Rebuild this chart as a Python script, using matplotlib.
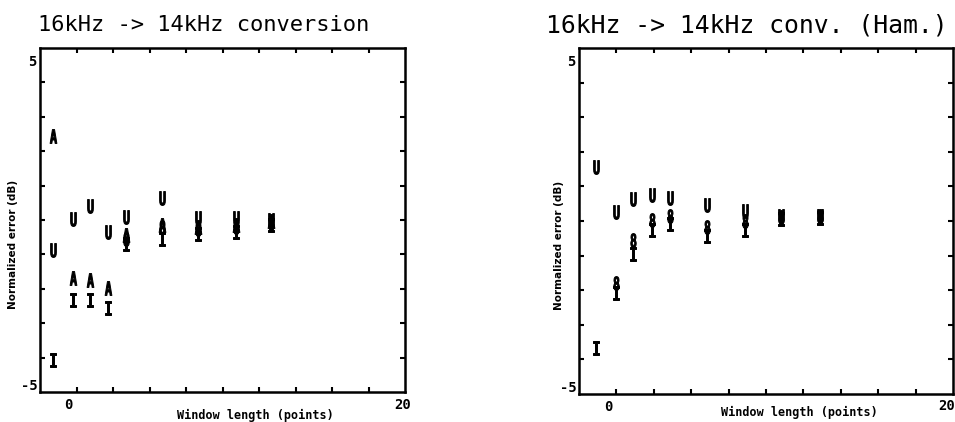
import numpy as np
import matplotlib
matplotlib.use("Agg")
import matplotlib.pyplot as plt
from matplotlib.textpath import TextPath
from matplotlib.font_manager import FontProperties
from matplotlib.path import Path
import matplotlib.transforms as mtransforms

# ---- data ----
x_left = [-1.2, 0.0, 1.0, 2.1, 3.2, 5.35, 7.55, 9.8, 11.95]
left_U = [-0.88, 0.04, 0.42, -0.36, 0.10, 0.65, 0.05, 0.05, 0.0]
left_A = [2.45, -1.70, -1.75, -1.99, -0.45, -0.15, -0.20, -0.15, -0.02]
left_8 = [np.nan, np.nan, np.nan, np.nan, -0.55, -0.20, -0.25, -0.20, -0.10]
left_I = [-4.07, -2.33, -2.33, -2.57, -0.70, -0.55, -0.40, -0.35, -0.15]

x_right = [-1.0, 0.15, 1.15, 2.3, 3.35, 5.5, 7.75, 9.9, 12.15]
right_U = [1.56, 0.26, 0.64, 0.75, 0.66, 0.46, 0.29, 0.15, 0.15]
right_8 = [np.nan, -1.79, -0.55, 0.03, 0.14, -0.17, 0.0, 0.12, 0.14]
right_I = [-3.67, -2.08, -0.95, -0.26, -0.10, -0.43, -0.26, 0.05, 0.08]

titles = ["16kHz -> 14kHz conversion", "16kHz -> 14kHz conv. (Ham.)"]
ylabel = "Normalized error (dB)"
xlabel = "Window length (points)"
xlim = (-2, 20)
ylim = (-5, 5)


def letter_marker(ch, sx=0.62):
    tp = TextPath((0, 0), ch, size=1,
                  prop=FontProperties(family="DejaVu Sans Mono", weight="bold"))
    verts = tp.vertices.copy()
    codes = tp.codes
    real = codes != Path.CLOSEPOLY
    x0, x1 = verts[real, 0].min(), verts[real, 0].max()
    y0, y1 = verts[real, 1].min(), verts[real, 1].max()
    verts[:, 0] = (verts[:, 0] - (x0 + x1) / 2) * sx
    verts[:, 1] = verts[:, 1] - (y0 + y1) / 2
    verts[~real] = 0.0
    return Path(verts, codes)


fig = plt.figure(figsize=(9.55, 4.22), dpi=100)
ax_l = fig.add_axes([40 / 955, 1 - 392 / 422, 365 / 955, 344 / 422])
ax_r = fig.add_axes([579 / 955, 1 - 394 / 422, 374 / 955, 346 / 422])

mk = {c: letter_marker(c) for c in "UA8I"}

for ax, xs, series in [
    (ax_l, x_left, [("I", left_I), ("8", left_8), ("A", left_A), ("U", left_U)]),
    (ax_r, x_right, [("I", right_I), ("8", right_8), ("U", right_U)]),
]:
    for ch, vals in series:
        ax.plot(xs, vals, linestyle="none", marker=mk[ch], markersize=10,
                color="black", markeredgewidth=0.7)

for ax, title, tsize, tx in [(ax_l, titles[0], 15.8, 38), (ax_r, titles[1], 17.8, 546)]:
    ax.set_xlim(*xlim)
    ax.set_ylim(*ylim)
    for s in ax.spines.values():
        s.set_linewidth(1.8)
        s.set_color("black")
    ax.set_xticks(list(np.linspace(-2, 20, 11)[1:-1]))
    ax.set_xticklabels([])
    ax.set_yticks(list(range(-4, 5)))
    ax.set_yticklabels([])
    ax.tick_params(direction="in", length=3.5, width=1.5, top=True, right=True)
    fig.text(tx / 955, 1 - 25 / 422, title, family="DejaVu Sans Mono",
             fontsize=tsize, ha="left", va="center", color="black")
    ax.set_ylabel(ylabel, fontsize=7.5, fontweight="bold", family="DejaVu Sans",
                  labelpad=10)
    ax.set_xlabel(xlabel, fontsize=8.5, fontweight="bold", family="DejaVu Sans Mono",
                  labelpad=8)

    bold = dict(fontsize=10, fontweight="bold", family="DejaVu Sans Mono",
                color="black")
    ytr = ax.get_yaxis_transform()
    xtr = ax.get_xaxis_transform()
    ax.text(0, 5, "5", transform=ytr + mtransforms.ScaledTranslation(-0.04, -0.14, fig.dpi_scale_trans),
            ha="right", va="center", **bold)
    ax.text(0, -5, "-5", transform=ytr + mtransforms.ScaledTranslation(-0.02, 0.06, fig.dpi_scale_trans),
            ha="right", va="center", **bold)
    ax.text(0, 0, "0", transform=xtr + mtransforms.ScaledTranslation(-0.05, -0.13, fig.dpi_scale_trans),
            ha="center", va="center", clip_on=False, **bold)

ax_l.text(20, 0, "20", transform=ax_l.get_xaxis_transform() + mtransforms.ScaledTranslation(-0.02, -0.13, fig.dpi_scale_trans),
          ha="center", va="center", clip_on=False, fontsize=10, fontweight="bold",
          family="DejaVu Sans Mono")
ax_r.text(20, 0, "20", transform=ax_r.get_xaxis_transform() + mtransforms.ScaledTranslation(-0.06, -0.12, fig.dpi_scale_trans),
          ha="center", va="center", clip_on=False, fontsize=10, fontweight="bold",
          family="DejaVu Sans Mono")

ax_l.xaxis.set_label_coords(0.59, -0.05)
ax_r.xaxis.set_label_coords(0.59, -0.035)
ax_l.yaxis.set_label_coords(-0.06, 0.43)
ax_r.yaxis.set_label_coords(-0.04, 0.43)

fig.savefig("out.png", dpi=100, facecolor="white")
